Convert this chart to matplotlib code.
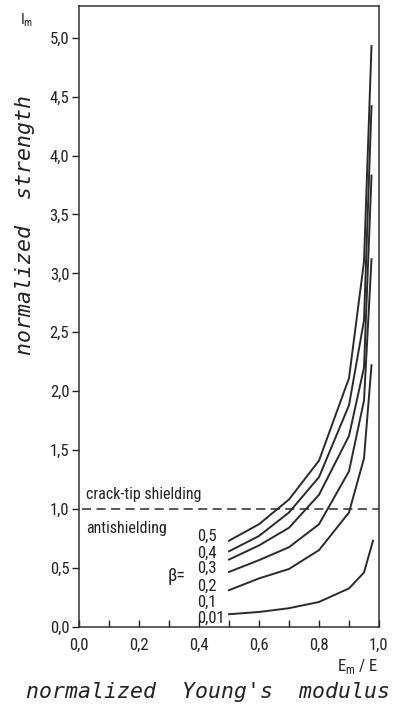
import matplotlib
matplotlib.use("Agg")
import matplotlib.pyplot as plt
from matplotlib import font_manager

# ---- data ----
x_common = [0.5, 0.6, 0.7, 0.8, 0.9, 0.95, 0.975]
x_001 = [0.5, 0.6, 0.7, 0.8, 0.9, 0.95, 0.98]
beta_05 = [0.73, 0.87, 1.08, 1.41, 2.11, 3.10, 4.93]
beta_04 = [0.64, 0.77, 0.97, 1.27, 1.88, 2.60, 4.42]
beta_03 = [0.57, 0.69, 0.84, 1.12, 1.62, 2.20, 3.83]
beta_02 = [0.465, 0.565, 0.675, 0.87, 1.32, 1.92, 3.12]
beta_01 = [0.31, 0.41, 0.49, 0.65, 0.97, 1.43, 2.22]
beta_001 = [0.106, 0.125, 0.157, 0.21, 0.325, 0.46, 0.73]
beta_labels = ["0,5", "0,4", "0,3", "0,2", "0,1", "0,01"]
beta_label_y = [0.765, 0.625, 0.495, 0.345, 0.205, 0.075]
x_ticks = [0.0, 0.2, 0.4, 0.6, 0.8, 1.0]
x_ticklabels = ["0,0", "0,2", "0,4", "0,6", "0,8", "1,0"]
x_minor = [0.1, 0.3, 0.5, 0.7, 0.9]
y_ticks = [0.0, 0.5, 1.0, 1.5, 2.0, 2.5, 3.0, 3.5, 4.0, 4.5, 5.0]
y_ticklabels = ["0,0", "0,5", "1,0", "1,5", "2,0", "2,5", "3,0", "3,5", "4,0", "4,5", "5,0"]

names = {f.name for f in font_manager.fontManager.ttflist}
narrow = None
for cand in ["Liberation Sans Narrow", "Roboto Condensed", "Open Sans Condensed"]:
    if cand in names:
        narrow = cand
        break
if narrow is None:
    narrow_kw = dict(family="DejaVu Sans", fontstretch="condensed")
else:
    narrow_kw = dict(family=narrow)

mono_kw = dict(family="DejaVu Sans Mono", style="italic")

fig = plt.figure(figsize=(3.97, 7.12), dpi=100)
ax = fig.add_axes([79/397, 85.3/712, 300/397, 620.7/712])
ax.set_xlim(0, 1.0)
ax.set_ylim(0, 5.27)

lc = "#2a2a2a"
for xs, ys in [(x_common, beta_05), (x_common, beta_04), (x_common, beta_03),
               (x_common, beta_02), (x_common, beta_01), (x_001, beta_001)]:
    ax.plot(xs, ys, color=lc, lw=1.4, solid_joinstyle="miter")

ax.plot([0.01, 1.0], [1.0, 1.0], color=lc, lw=1.1, dashes=(6, 3.5))

for s in ax.spines.values():
    s.set_linewidth(1.1)
    s.set_color("#333333")

ax.set_xticks(x_ticks)
ax.set_xticklabels(x_ticklabels, fontsize=12, **narrow_kw)
ax.set_xticks(x_minor, minor=True)
ax.tick_params(axis="x", which="both", direction="in", length=5, width=1.0, pad=8, colors="#222222")
ax.set_yticks(y_ticks)
ax.set_yticklabels(y_ticklabels, fontsize=12, **narrow_kw)
ax.tick_params(axis="y", direction="out", length=5, width=1.0, pad=2, colors="#222222")

ax.text(0.025, 1.12, "crack-tip shielding", fontsize=11.5, va="center", ha="left", color="#222222", **narrow_kw)
ax.text(0.025, 0.83, "antishielding", fontsize=11.5, va="center", ha="left", color="#222222", **narrow_kw)
for lab, yy in zip(beta_labels, beta_label_y):
    ax.text(0.393, yy, lab, fontsize=12, va="center", ha="left", color="#222222", **narrow_kw)
ax.text(0.295, 0.43, "β=", fontsize=13, va="center", ha="left", color="#222222", **narrow_kw)

fig.text(27/397, 1 - 20/712, "I$_\\mathregular{m}$", fontsize=11, ha="center", va="center", color="#222222", **narrow_kw)
fig.text(358/397, 1 - 667/712, "E$_\\mathregular{m}$ / E", fontsize=12, ha="center", va="center", color="#222222", **narrow_kw)

fig.text(25/397, 1 - 225/712, "normalized  strength", rotation=90, fontsize=15.5,
         ha="center", va="center", color="#222222", **mono_kw)
fig.text(208/397, 1 - 692/712, "normalized  Young's  modulus", fontsize=15.5,
         ha="center", va="center", color="#222222", **mono_kw)

fig.savefig("out.png", dpi=100)
